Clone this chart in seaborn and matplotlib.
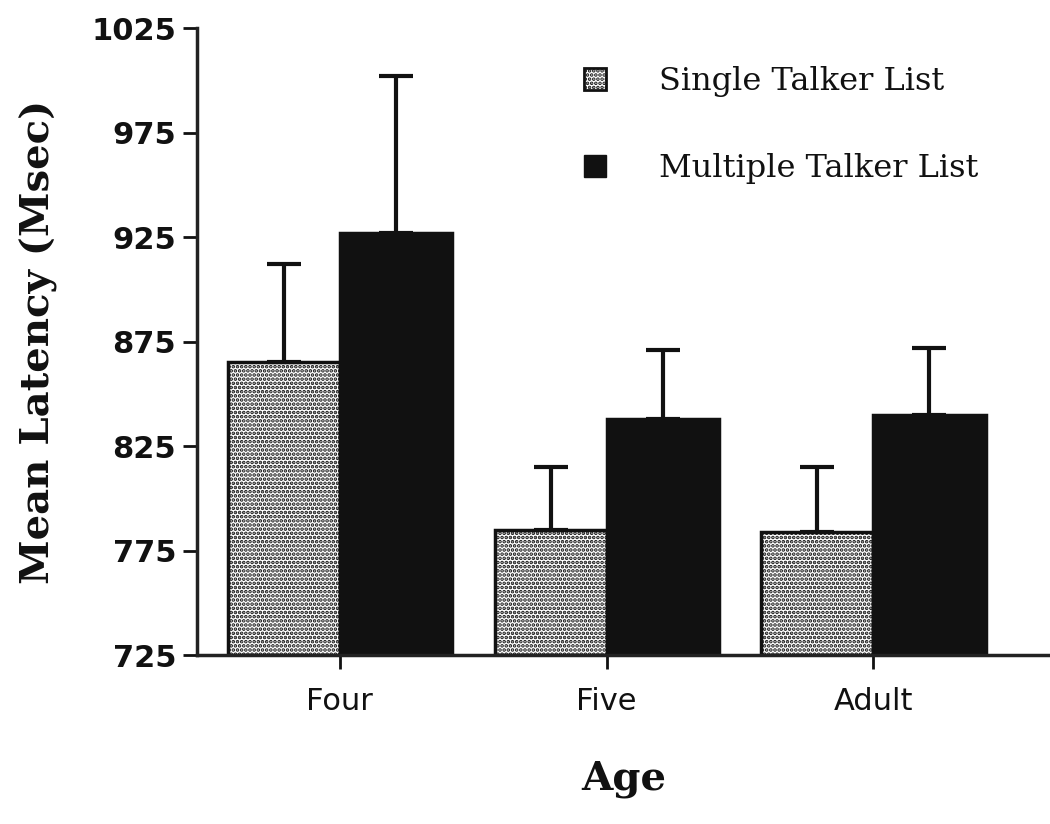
import pandas as pd
from matplotlib import pyplot as plt
from matplotlib.patches import Patch
import seaborn as sns

ages = ["Four", "Five", "Adult"]
conditions = ["Single Talker List", "Multiple Talker List"]
single_mean = [865, 785, 784]
multiple_mean = [927, 838, 840]
single_err = [47, 30, 31]
multiple_err = [75, 33, 32]

df = pd.DataFrame({
    "Age": ages * 2,
    "Condition": [conditions[0]] * 3 + [conditions[1]] * 3,
    "Latency": single_mean + multiple_mean,
    "Err": single_err + multiple_err,
})

sns.set_style("ticks")
plt.rcParams["hatch.linewidth"] = 1.8
plt.rcParams["text.color"] = "#111111"

fig = plt.figure(figsize=(10.5, 8.24), dpi=100)
ax = fig.add_axes([0.1876, 0.205, 0.812, 0.761])

sns.barplot(data=df, x="Age", y="Latency", hue="Condition", order=ages,
            hue_order=conditions, palette=["white", "#111111"], width=0.84,
            errorbar=None, ax=ax, legend=False, edgecolor="#111111", linewidth=2.5)

# bars start at the bottom of the axis, dotted pattern on single-talker bars
for i, bar in enumerate(ax.patches[:6]):
    h = bar.get_y() + bar.get_height()
    bar.set_y(725)
    bar.set_height(h - 725)
    if i < 3:
        bar.set_hatch("....")

for i, bar in enumerate(ax.patches[:6]):
    cx = bar.get_x() + bar.get_width() / 2
    top = bar.get_y() + bar.get_height()
    err = df["Err"].iloc[i]
    ax.errorbar(cx, top, yerr=[[0], [err]], color="#111111", elinewidth=3,
                capsize=12, capthick=3, zorder=1)

ax.set_ylim(725, 1025)
ax.set_yticks(range(725, 1026, 50))
ax.set_xlim(-0.535, 2.66)
ax.set_xticks([0.0, 1.0, 2.0])
ax.set_xticklabels(ages)
ax.tick_params(axis="both", colors="#111111")
ax.tick_params(axis="y", length=10, width=2, labelsize=22, pad=5)
ax.tick_params(axis="x", length=10, width=2, labelsize=22, pad=13)
for lab in ax.get_yticklabels():
    lab.set_fontfamily("DejaVu Sans")
    lab.set_fontweight("bold")
for lab in ax.get_xticklabels():
    lab.set_fontfamily("DejaVu Sans")

for s in ["left", "bottom"]:
    ax.spines[s].set_linewidth(2.5)
    ax.spines[s].set_color("#222222")
sns.despine(ax=ax)

ax.set_ylabel("Mean Latency (Msec)", fontsize=29, fontweight="bold",
              fontfamily="DejaVu Serif", labelpad=24, color="#111111")
ax.set_xlabel("Age", fontsize=29, fontweight="bold",
              fontfamily="DejaVu Serif", labelpad=32, color="#111111")

handles = [Patch(facecolor="white", edgecolor="#111111", hatch="....", linewidth=2),
           Patch(facecolor="#111111", edgecolor="#111111")]
ax.legend(handles, conditions, loc="upper left", bbox_to_anchor=(0.42, 0.985),
          frameon=False, prop={"family": "DejaVu Serif", "size": 23},
          handlelength=0.7, handleheight=0.7, handletextpad=1.65, labelspacing=1.75)

plt.savefig("out.png", dpi=100)
